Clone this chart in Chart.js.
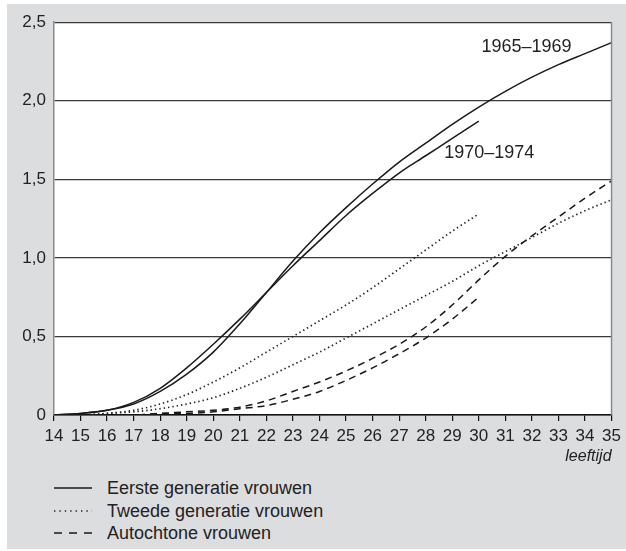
<!DOCTYPE html>
<html>
<head>
<meta charset="utf-8">
<script src="https://cdn.jsdelivr.net/npm/chart.js@4/dist/chart.umd.min.js"></script>
<style>
  html, body { margin: 0; padding: 0; background: #fff; }
  body { width: 626px; height: 551px; position: relative; overflow: hidden; font-family: "Liberation Sans", Arial, sans-serif; }
  #panel { position: absolute; left: 7px; top: 4px; width: 619px; height: 545px; background: #dcdddf; }
  #chart { position: absolute; left: 0; top: 0; }
  #legend { position: absolute; left: 47px; top: 473px; color: #222; font-size: 18px; }
  .row { position: relative; height: 22.5px; line-height: 22.5px; }
  .row svg { position: absolute; left: 0; top: 6px; }
  .label { position: absolute; left: 53px; top: 0; white-space: nowrap; }
</style>
</head>
<body>
<div id="panel">
  <canvas id="chart" width="619" height="462"></canvas>
  <div id="legend"></div>
</div>
<script>
const ages = [14, 15, 16, 17, 18, 19, 20, 21, 22, 23, 24, 25, 26, 27, 28, 29, 30, 31, 32, 33, 34, 35];
const yTicks = [0, 0.5, 1.0, 1.5, 2.0, 2.5];

// cumulatief aantal kinderen per leeftijd
const eerste6569 = [0, 0.01, 0.03, 0.07, 0.15, 0.26, 0.40, 0.58, 0.78, 0.98, 1.16, 1.32, 1.47, 1.61, 1.73, 1.85, 1.96, 2.06, 2.15, 2.23, 2.30, 2.37];
const eerste7074 = [0, 0.01, 0.03, 0.08, 0.17, 0.30, 0.45, 0.61, 0.78, 0.95, 1.11, 1.27, 1.41, 1.54, 1.65, 1.76, 1.87];
const tweede6569 = [0, 0, 0.01, 0.02, 0.04, 0.07, 0.11, 0.17, 0.24, 0.32, 0.40, 0.49, 0.58, 0.67, 0.76, 0.85, 0.95, 1.04, 1.13, 1.22, 1.30, 1.37];
const tweede7074 = [0, 0, 0.01, 0.03, 0.07, 0.13, 0.21, 0.30, 0.40, 0.50, 0.60, 0.70, 0.81, 0.93, 1.05, 1.17, 1.28];
const autochtoon6569 = [0, 0, 0, 0, 0.01, 0.02, 0.03, 0.05, 0.09, 0.15, 0.21, 0.28, 0.36, 0.45, 0.56, 0.70, 0.86, 1.01, 1.14, 1.26, 1.38, 1.49];
const autochtoon7074 = [0, 0, 0, 0, 0.01, 0.01, 0.02, 0.04, 0.06, 0.10, 0.15, 0.22, 0.30, 0.39, 0.49, 0.61, 0.75];

const cohortLabels = [
    { text: '1965–1969', x: 30.1, y: 2.34 },
    { text: '1970–1974', x: 28.7, y: 1.67 },
];

const groups = [
    { name: 'Eerste generatie vrouwen', dash: [],       legendDash: '',      color: '#1a1a1a', width: 1.5, series: [eerste6569, eerste7074] },
    { name: 'Tweede generatie vrouwen', dash: [1.4, 3], legendDash: '1.4 4', color: '#222',    width: 1.7, series: [tweede6569, tweede7074] },
    { name: 'Autochtone vrouwen',       dash: [7, 5],   legendDash: '8 7',   color: '#1a1a1a', width: 1.5, series: [autochtoon6569, autochtoon7074] },
];

const datasets = [];
for (const g of groups) {
    g.series.forEach((s, i) => {
        datasets.push({
            label: g.name + (i === 0 ? ' 1965–1969' : ' 1970–1974'),
            data: s,
            borderColor: g.color,
            borderWidth: g.width,
            borderDash: g.dash,
            pointRadius: 0,
            cubicInterpolationMode: 'monotone',
            fill: false,
        });
    });
}

// Legend as plain html, line samples in svg
const legendEl = document.getElementById('legend');
for (const g of groups) {
    const row = document.createElement('div');
    row.className = 'row';
    const dash = g.legendDash ? ` stroke-dasharray="${g.legendDash}"` : '';
    row.innerHTML =
        `<svg width="40" height="10"><line x1="0" y1="5" x2="38" y2="5" stroke="${g.color}" stroke-width="${g.width}"${dash}/></svg>`;
    const label = document.createElement('div');
    label.className = 'label';
    label.textContent = g.name;
    row.appendChild(label);
    legendEl.appendChild(row);
}

const plotFrame = {
    id: 'plotFrame',
    beforeDraw(chart) {
        const { ctx, chartArea: a } = chart;
        ctx.save();
        ctx.fillStyle = '#fff';
        ctx.fillRect(a.left, a.top, a.right - a.left, a.bottom - a.top);
        ctx.restore();
    },
    afterDatasetsDraw(chart) {
        const { ctx, chartArea: a, scales } = chart;
        ctx.save();
        ctx.strokeStyle = '#8a8a8a';
        ctx.lineWidth = 1.5;
        ctx.beginPath();
        ctx.moveTo(a.right, a.top);
        ctx.lineTo(a.right, a.bottom);
        ctx.stroke();

        ctx.fillStyle = '#222';
        ctx.font = '18px "Liberation Sans", Arial, sans-serif';
        ctx.textAlign = 'left';
        ctx.textBaseline = 'middle';
        for (const l of cohortLabels) {
            const px = scales.x.getPixelForValue(l.x - ages[0]);
            ctx.fillText(l.text, px, scales.y.getPixelForValue(l.y));
        }
        ctx.restore();
    },
};

new Chart(document.getElementById('chart'), {
    type: 'line',
    data: { labels: ages, datasets },
    plugins: [plotFrame],
    options: {
        responsive: false,
        animation: false,
        layout: { padding: { left: 0, right: 10, top: 14, bottom: 0 } },
        plugins: {
            legend: { display: false },
            tooltip: { enabled: false },
        },
        scales: {
            x: {
                type: 'category',
                offset: false,
                grid: { drawOnChartArea: false, drawTicks: true, tickLength: 6, color: '#111', lineWidth: 1.2 },
                border: { display: true, color: '#111', width: 1.5 },
                ticks: {
                    color: '#222', padding: 5, maxRotation: 0, autoSkip: false,
                    font: { size: 17, family: '"Liberation Sans", Arial, sans-serif' },
                },
                title: {
                    display: true, text: 'leeftijd', align: 'end', color: '#222',
                    padding: { top: 0, bottom: 0 },
                    font: { size: 16, style: 'italic', family: '"Liberation Sans", Arial, sans-serif' },
                },
                afterFit(scale) { scale.height = 51; },
            },
            y: {
                min: 0,
                max: 2.5,
                afterBuildTicks(scale) { scale.ticks = yTicks.map(v => ({ value: v })); },
                grid: { color: '#3a3a3a', lineWidth: 1.3, drawTicks: false },
                border: { display: true, color: '#8a8a8a', width: 1.5 },
                ticks: {
                    color: '#222', padding: 8,
                    font: { size: 17, family: '"Liberation Sans", Arial, sans-serif' },
                    callback: v => v === 0 ? '0' : v.toFixed(1).replace('.', ','),
                },
                afterFit(scale) { scale.width = 47; },
            },
        },
    },
});
</script>
</body>
</html>
